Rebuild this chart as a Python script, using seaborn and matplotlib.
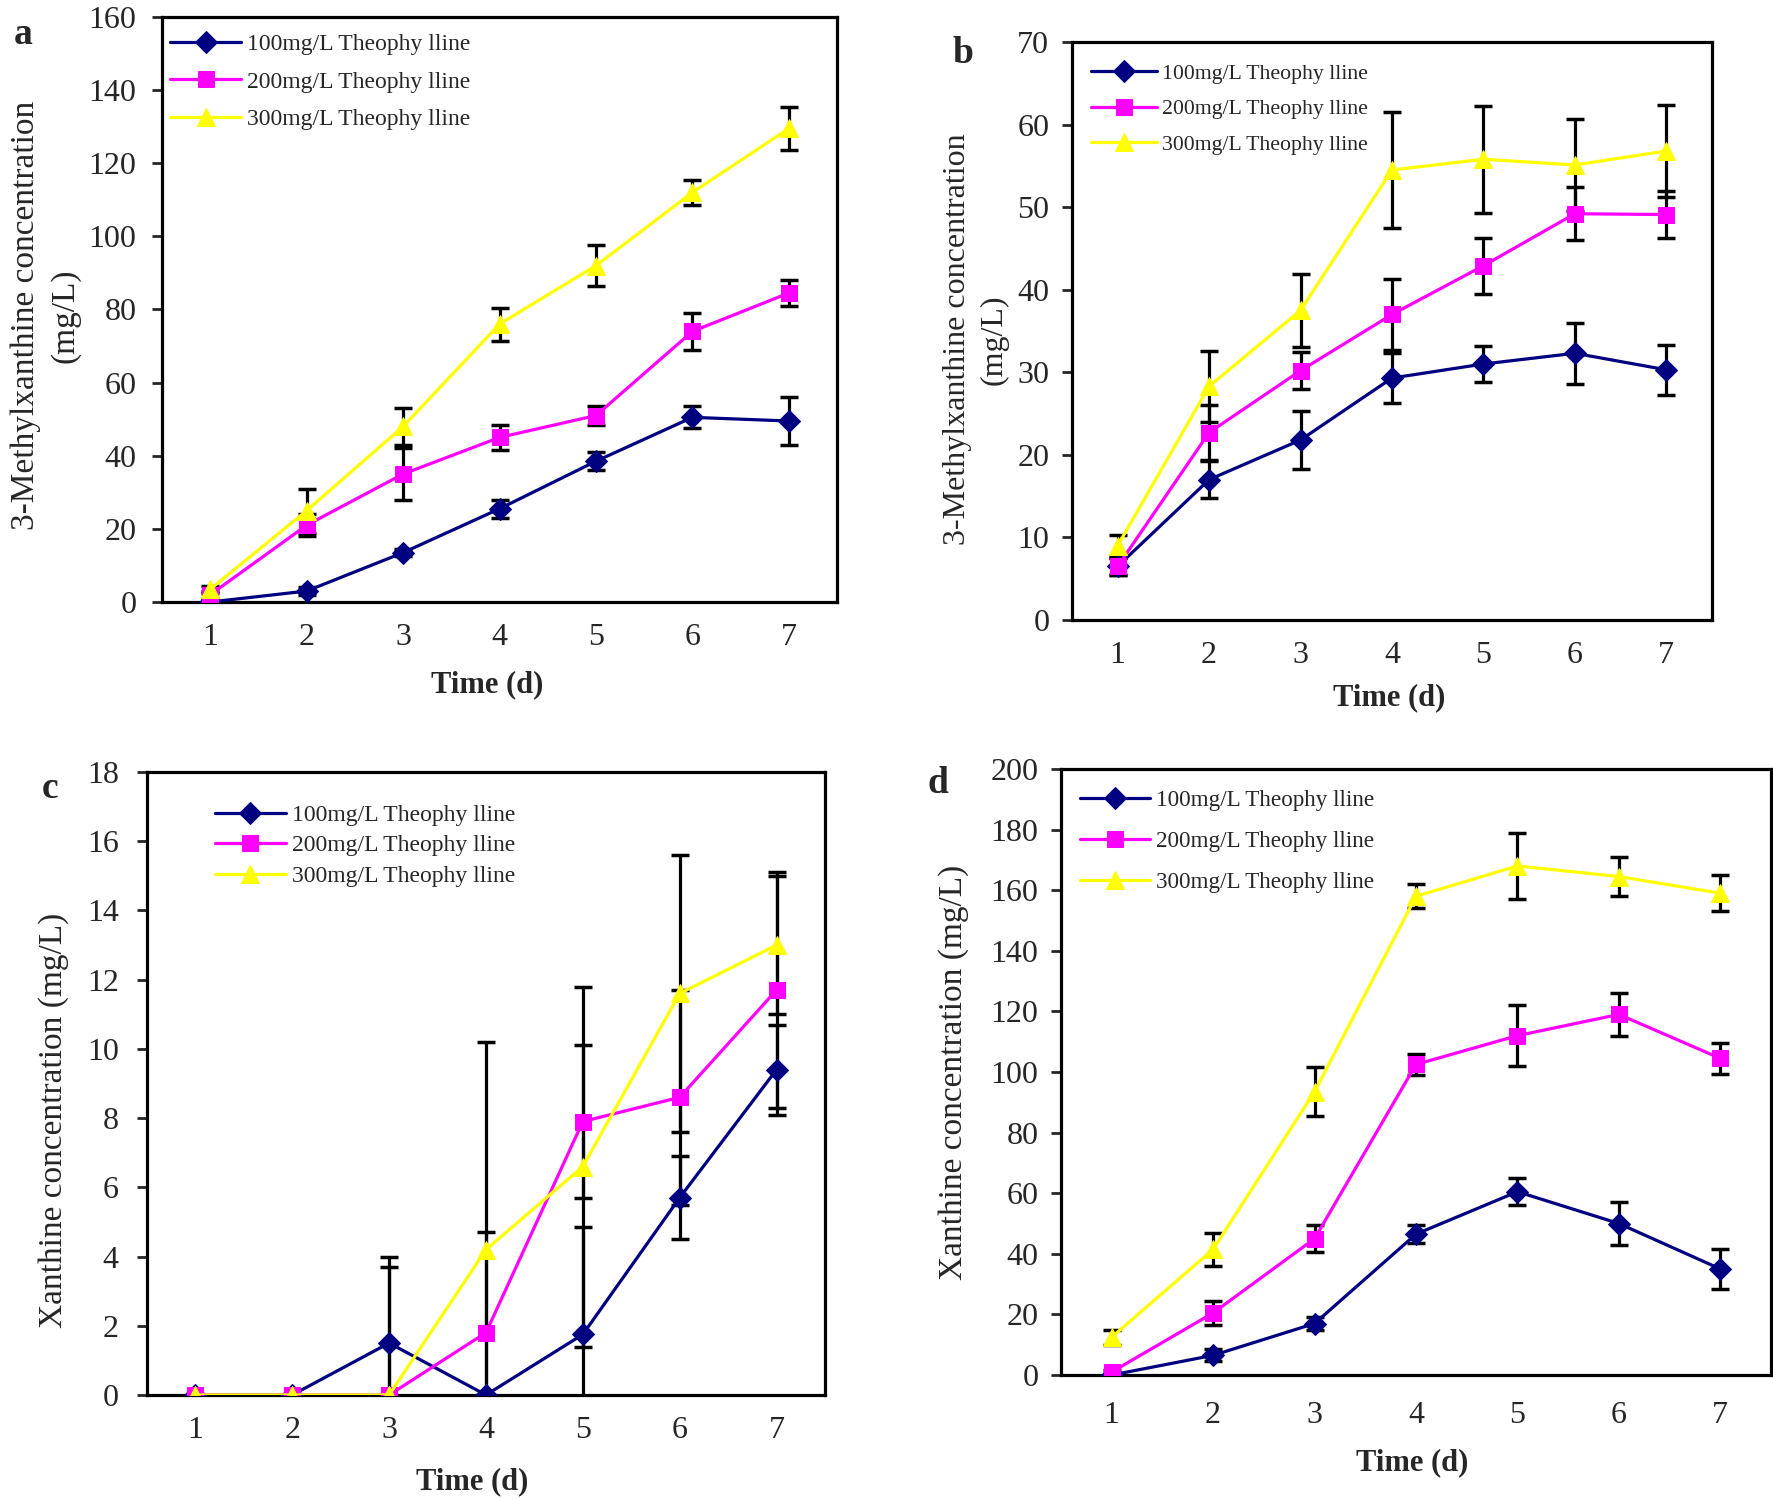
import numpy as np
import pandas as pd
import matplotlib
matplotlib.use('Agg')
import matplotlib.pyplot as plt
import seaborn as sns

days = [1, 2, 3, 4, 5, 6, 7]
series_labels = ['100mg/L Theophy lline', '200mg/L Theophy lline', '300mg/L Theophy lline']

# panel a: 3-methylxanthine, first medium
a_100 = [0, 3, 13.5, 25.5, 38.5, 50.5, 49.5]
a_100_err = [0.5, 1, 1, 2.5, 2.5, 3, 6.5]
a_200 = [2, 21, 35, 45, 51, 74, 84.5]
a_200_err = [1, 3, 7, 3.5, 2.5, 5, 3.5]
a_300 = [3.5, 25, 48, 76, 92, 112, 129.5]
a_300_err = [1, 6, 5, 4.5, 5.5, 3.5, 6]

# panel b: 3-methylxanthine, second medium
b_100 = [6.5, 17, 21.8, 29.3, 31, 32.3, 30.3]
b_100_err = [1, 2.2, 3.5, 3, 2.2, 3.7, 3]
b_200 = [6.5, 22.7, 30.2, 37, 42.9, 49.2, 49.1]
b_200_err = [1, 3.3, 2.2, 4.3, 3.4, 3.2, 2.8]
b_300 = [9, 28.3, 37.5, 54.5, 55.8, 55.1, 56.8]
b_300_err = [1.3, 4.3, 4.4, 7, 6.5, 5.6, 5.6]

# panel c: xanthine, first medium
c_100 = [0, 0, 1.5, 0, 1.75, 5.7, 9.4]
c_100_err = [0, 0, 2.5, 0, 3.1, 1.2, 1.3]
c_200 = [0, 0, 0, 1.8, 7.9, 8.6, 11.7]
c_200_err = [0, 0, 0, 2.9, 2.2, 3.1, 3.4]
c_300 = [0, 0, 0, 4.2, 6.6, 11.6, 13]
c_300_err = [0, 0, 3.7, 6, 5.2, 4, 2]

# panel d: xanthine, second medium
d_100 = [0, 6.5, 17, 46.5, 60.5, 50, 35]
d_100_err = [0.5, 2, 2, 3, 4.5, 7, 6.5]
d_200 = [1, 20.5, 45, 102.5, 112, 119, 104.5]
d_200_err = [0.5, 4, 4.5, 3.5, 10, 7, 5]
d_300 = [12.5, 41.5, 93.5, 158, 168, 164.5, 159]
d_300_err = [2.5, 5.5, 8, 4, 11, 6.5, 6]

colors = ['#000080', '#FF00FF', '#FFFF00']
markers = ['D', 's', '^']
msizes = [11, 11, 13]

sns.set_style('white')
plt.rcParams['font.family'] = ['Liberation Serif', 'DejaVu Serif']

fig = plt.figure(figsize=(17.73, 14.99), dpi=100)

# per-panel layout settings
panels = [
    dict(letter='a', rect=[0.0914, 0.5984, 0.3807, 0.3903], ys=(a_100, a_200, a_300),
         errs=(a_100_err, a_200_err, a_300_err), ymax=160, ystep=20,
         ylab='3-Methylxanthine concentration\n(mg/L)', ylab_size=24, ylab_pad=6, ylab_y=0.49,
         lpos=(0.013, 0.977), ypad=11.5, xpad=15, xlab_pad=13, xlab_x=0.481,
         lanchor=(0.012, 0.972), lspace=0.69, lsize=17),
    dict(letter='b', rect=[0.6046, 0.5864, 0.3610, 0.3856], ys=(b_100, b_200, b_300),
         errs=(b_100_err, b_200_err, b_300_err), ymax=70, ystep=10,
         ylab='3-Methylxanthine concentration\n(mg/L)', ylab_size=23, ylab_pad=6, ylab_y=0.485,
         lpos=(0.543, 0.964), ypad=9.3, xpad=15, xlab_pad=10, xlab_x=0.495,
         lanchor=(0.030, 0.963), lspace=0.7, lsize=15.7),
    dict(letter='c', rect=[0.0829, 0.0694, 0.3824, 0.4156], ys=(c_100, c_200, c_300),
         errs=(c_100_err, c_200_err, c_300_err), ymax=18, ystep=2,
         ylab='Xanthine concentration (mg/L)', ylab_size=24, ylab_pad=13, ylab_y=0.44,
         lpos=(0.028, 0.4737), ypad=13.3, xpad=15, xlab_pad=16, xlab_x=0.48,
         lanchor=(0.10, 0.948), lspace=0.38, lsize=17),
    dict(letter='d', rect=[0.5984, 0.0827, 0.4005, 0.4043], ys=(d_100, d_200, d_300),
         errs=(d_100_err, d_200_err, d_300_err), ymax=200, ystep=20,
         ylab='Xanthine concentration (mg/L)', ylab_size=24, ylab_pad=15, ylab_y=0.5,
         lpos=(0.529, 0.477), ypad=9.3, xpad=19, xlab_pad=13, xlab_x=0.495,
         lanchor=(0.027, 0.965), lspace=0.85, lsize=16.7),
]

for p in panels:
    ax = fig.add_axes(p['rect'])
    for i in range(3):
        df = pd.DataFrame({'day': days, 'conc': p['ys'][i]})
        sns.lineplot(data=df, x='day', y='conc', ax=ax, color=colors[i], marker=markers[i],
                     markersize=msizes[i], markeredgecolor=colors[i], linewidth=2.3,
                     label=series_labels[i], zorder=4)
        ax.errorbar(days, p['ys'][i], yerr=p['errs'][i], fmt='none', ecolor='black',
                    elinewidth=2.3, capsize=6.5, capthick=2.5, zorder=3)
    ax.set_xlim(0.5, 7.5)
    ax.set_ylim(0, p['ymax'])
    ax.set_xticks(days)
    ax.set_xticks(np.arange(1.5, 7, 1), minor=True)
    ax.set_yticks(np.arange(0, p['ymax'] + p['ystep'] / 2, p['ystep']))
    ax.tick_params(axis='x', which='major', length=0, pad=p['xpad'], labelsize=23)
    ax.tick_params(axis='x', which='minor', direction='in', length=7, width=2)
    ax.tick_params(axis='y', direction='out', length=7, width=2, pad=p['ypad'],
                   labelsize=23, left=True)
    for sp in ax.spines.values():
        sp.set_linewidth(2.3)
        sp.set_color('black')
    ax.set_xlabel('Time (d)', fontsize=22, fontweight='bold', labelpad=p['xlab_pad'])
    ax.xaxis.label.set_x(p['xlab_x'])
    ax.set_ylabel(p['ylab'], fontsize=p['ylab_size'], labelpad=p['ylab_pad'], linespacing=1.35)
    ax.yaxis.label.set_y(p['ylab_y'])
    ax.legend(loc='upper left', bbox_to_anchor=p['lanchor'], frameon=False, fontsize=p['lsize'],
              handlelength=3.0, labelspacing=p['lspace'], borderaxespad=0, borderpad=0,
              handletextpad=0.25)
    fig.text(p['lpos'][0], p['lpos'][1], p['letter'], fontsize=27, fontweight='bold',
             ha='center', va='center')

plt.savefig('out.png', dpi=100)
